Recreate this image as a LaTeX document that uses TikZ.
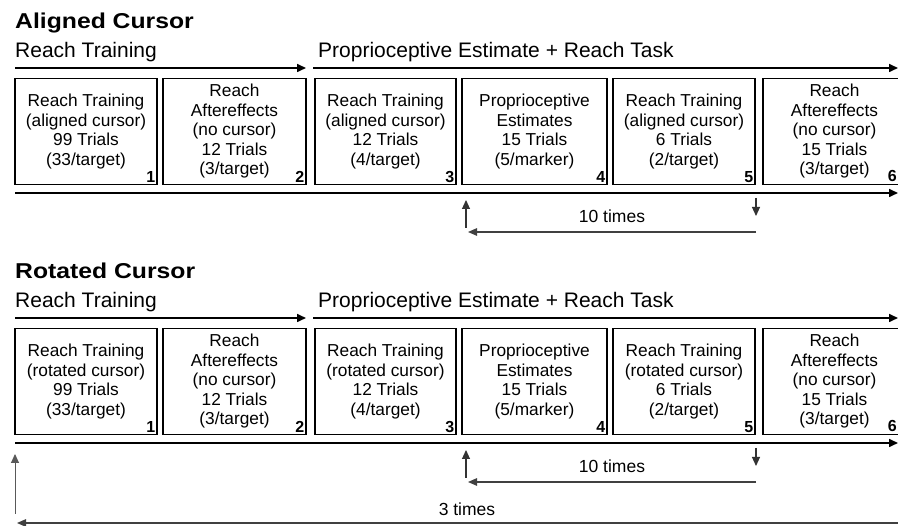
\documentclass[tikz,border=0pt]{standalone}
\usepackage{fontspec}
\setmainfont{Liberation Sans}
\newfontfamily\titlefont{Liberation Sans}[FakeStretch=1.15]
\usetikzlibrary{arrows.meta}

\tikzset{
  titletext/.style={inner sep=0pt, anchor=base west, font=\titlefont\bfseries\fontsize{21.5}{24}\selectfont},
  headtext/.style={inner sep=0pt, anchor=base west, font=\fontsize{21}{24}\selectfont},
  trialbox/.style={draw, line width=1.5pt, minimum height=106pt, inner sep=0pt,
    align=center, font=\fontsize{17.3}{19.5}\selectfont},
  stepnum/.style={inner sep=2.2pt, anchor=south east, font=\bfseries\fontsize{16}{16}\selectfont},
  mainarrow/.style={line width=1.6pt, -{Triangle[length=9pt,width=8pt]}},
  looparrow/.style={line width=1.1pt, black!80, -{Triangle[length=9pt,width=8pt]}},
  returnarrow/.style={line width=1.3pt, black!75, -{Triangle[length=9pt,width=7.5pt]}},
  counttext/.style={inner sep=0pt, font=\fontsize{17.5}{20}\selectfont},
}

% One protocol block: #1 name prefix, #2 heading, #3 cursor kind
\newcommand\trialblock[3]{%
  \node[titletext] (#1title) at (15,29) {#2};
  \node[headtext] (#1headL) at (15,57.5) {Reach Training};
  \node[headtext] (#1headR) at (318,57.5) {Proprioceptive Estimate + Reach Task};
  \coordinate (#1aL0) at (15,68);  \coordinate (#1aL1) at (306,68);
  \coordinate (#1aR0) at (313,68); \coordinate (#1aR1) at (898,68);
  \draw[mainarrow] (#1aL0) -- (#1aL1);
  \draw[mainarrow] (#1aR0) -- (#1aR1);
  \node[trialbox, minimum width=142pt] (#1b1) at (86,131.5)
    {Reach Training\\(#3 cursor)\\99 Trials\\(33/target)};
  \node[trialbox, minimum width=143pt] (#1b2) at (234.5,131.5)
    {Reach\\Aftereffects\\(no cursor)\\12 Trials\\(3/target)};
  \node[trialbox, minimum width=141pt] (#1b3) at (385.5,131.5)
    {Reach Training\\(#3 cursor)\\12 Trials\\(4/target)};
  \node[trialbox, minimum width=145pt] (#1b4) at (534.5,131.5)
    {Proprioceptive\\Estimates\\15 Trials\\(5/marker)};
  \node[trialbox, minimum width=142pt] (#1b5) at (684,131.5)
    {Reach Training\\(#3 cursor)\\6 Trials\\(2/target)};
  \node[trialbox, minimum width=143pt] (#1b6) at (834.5,131.5)
    {Reach\\Aftereffects\\(no cursor)\\15 Trials\\(3/target)};
  \node[stepnum] (#1n1) at (#1b1.south east) {1};
  \node[stepnum] (#1n2) at (#1b2.south east) {2};
  \node[stepnum] (#1n3) at (#1b3.south east) {3};
  \node[stepnum] (#1n4) at (#1b4.south east) {4};
  \node[stepnum] (#1n5) at (#1b5.south east) {5};
  \node[stepnum, inner sep=0pt] (#1n6) at (897,181.5) {6};
  \coordinate (#1bot0) at (15,193); \coordinate (#1bot1) at (898,193);
  \draw[mainarrow] (#1bot0) -- (#1bot1);
  % ten-fold repetition of steps 3 to 5
  \coordinate (#1up0) at (466,228);  \coordinate (#1up1) at (466,200);
  \coordinate (#1dn0) at (756,198);  \coordinate (#1dn1) at (756,216);
  \coordinate (#1ret0) at (756,232); \coordinate (#1ret1) at (468,232);
  \draw[looparrow] (#1up0) -- (#1up1);
  \draw[looparrow] (#1dn0) -- (#1dn1);
  \draw[returnarrow] (#1ret0) -- (#1ret1);
  \node[counttext] (#1ten) at (612,216) {10 times};
}

\begin{document}
\begin{tikzpicture}[x=1pt,y=-1pt]
\useasboundingbox (0,0) rectangle (898,526);
\clip (0,0) rectangle (898,526);
\fill[white] (0,0) rectangle (898,526);

\begin{scope}
  \trialblock{a}{Aligned Cursor}{aligned}
\end{scope}
\begin{scope}[shift={(0,250)}]
  \trialblock{r}{Rotated Cursor}{rotated}
\end{scope}

% three-fold repetition of the rotated block
\coordinate (lup0) at (15,514);  \coordinate (lup1) at (15,454);
\coordinate (rdn0) at (899,486); \coordinate (rdn1) at (899,534);
\coordinate (big0) at (905,523); \coordinate (big1) at (17,523);
\draw[looparrow, line width=0.9pt, black!65] (lup0) -- (lup1);
\draw[line width=0.9pt, black!65] (rdn0) -- (rdn1);
\draw[returnarrow] (big0) -- (big1);
\node[counttext] (three) at (467,509) {3 times};
\end{tikzpicture}
\end{document}
